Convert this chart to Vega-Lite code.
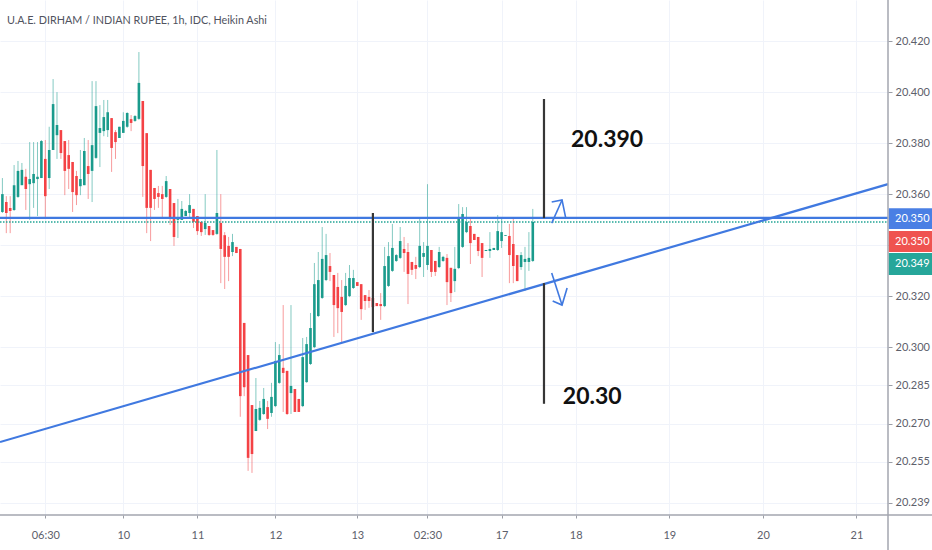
{
  "$schema": "https://vega.github.io/schema/vega-lite/v6.json",
  "width": 888,
  "height": 515,
  "autosize": "none",
  "padding": {"left": 0, "top": 0, "right": 44, "bottom": 35},
  "background": "#ffffff",
  "config": {"view": {"stroke": null}},
  "datasets": {
    "candles": [
      {"i":0,"o":20.3530,"c":20.3600,"h":20.3663,"l":20.3526},
      {"i":1,"o":20.3569,"c":20.3526,"h":20.3592,"l":20.3447},
      {"i":2,"o":20.3546,"c":20.3534,"h":20.3592,"l":20.3447},
      {"i":3,"o":20.3538,"c":20.3635,"h":20.3714,"l":20.3534},
      {"i":4,"o":20.3589,"c":20.3691,"h":20.3730,"l":20.3585},
      {"i":5,"o":20.3635,"c":20.3695,"h":20.3722,"l":20.3635},
      {"i":6,"o":20.3668,"c":20.3620,"h":20.3699,"l":20.3538},
      {"i":7,"o":20.3639,"c":20.3659,"h":20.3804,"l":20.3499},
      {"i":8,"o":20.3643,"c":20.3679,"h":20.3804,"l":20.3546},
      {"i":9,"o":20.3659,"c":20.3668,"h":20.3804,"l":20.3514},
      {"i":10,"o":20.3663,"c":20.3808,"h":20.3812,"l":20.3663},
      {"i":11,"o":20.3738,"c":20.3592,"h":20.3812,"l":20.3507},
      {"i":12,"o":20.3663,"c":20.3773,"h":20.3864,"l":20.3620},
      {"i":13,"o":20.3773,"c":20.3953,"h":20.4051,"l":20.3773},
      {"i":14,"o":20.3831,"c":20.3871,"h":20.4000,"l":20.3738},
      {"i":15,"o":20.3851,"c":20.3761,"h":20.3851,"l":20.3738},
      {"i":16,"o":20.3808,"c":20.3691,"h":20.3808,"l":20.3596},
      {"i":17,"o":20.3753,"c":20.3699,"h":20.3812,"l":20.3620},
      {"i":18,"o":20.3726,"c":20.3608,"h":20.3726,"l":20.3530},
      {"i":19,"o":20.3671,"c":20.3596,"h":20.3691,"l":20.3557},
      {"i":20,"o":20.3631,"c":20.3659,"h":20.3773,"l":20.3596},
      {"i":21,"o":20.3635,"c":20.3769,"h":20.3820,"l":20.3635},
      {"i":22,"o":20.3710,"c":20.3679,"h":20.3812,"l":20.3581},
      {"i":23,"o":20.3691,"c":20.3792,"h":20.4043,"l":20.3569},
      {"i":24,"o":20.3742,"c":20.3945,"h":20.4043,"l":20.3738},
      {"i":25,"o":20.3840,"c":20.3859,"h":20.3949,"l":20.3706},
      {"i":26,"o":20.3847,"c":20.3902,"h":20.3969,"l":20.3827},
      {"i":27,"o":20.3851,"c":20.3921,"h":20.3969,"l":20.3824},
      {"i":28,"o":20.3898,"c":20.3781,"h":20.3898,"l":20.3687},
      {"i":29,"o":20.3843,"c":20.3804,"h":20.3851,"l":20.3738},
      {"i":30,"o":20.3820,"c":20.3864,"h":20.3864,"l":20.3820},
      {"i":31,"o":20.3840,"c":20.3887,"h":20.3921,"l":20.3840},
      {"i":32,"o":20.3864,"c":20.3918,"h":20.3921,"l":20.3860},
      {"i":33,"o":20.3894,"c":20.3879,"h":20.3910,"l":20.3847},
      {"i":34,"o":20.3887,"c":20.3906,"h":20.3910,"l":20.3883},
      {"i":35,"o":20.3895,"c":20.4036,"h":20.4157,"l":20.3891},
      {"i":36,"o":20.3965,"c":20.3710,"h":20.3965,"l":20.3589},
      {"i":37,"o":20.3839,"c":20.3546,"h":20.3839,"l":20.3447},
      {"i":38,"o":20.3695,"c":20.3546,"h":20.3695,"l":20.3416},
      {"i":39,"o":20.3624,"c":20.3581,"h":20.3624,"l":20.3538},
      {"i":40,"o":20.3604,"c":20.3589,"h":20.3632,"l":20.3546},
      {"i":41,"o":20.3600,"c":20.3581,"h":20.3632,"l":20.3507},
      {"i":42,"o":20.3589,"c":20.3651,"h":20.3671,"l":20.3585},
      {"i":43,"o":20.3620,"c":20.3507,"h":20.3620,"l":20.3479},
      {"i":44,"o":20.3565,"c":20.3432,"h":20.3565,"l":20.3397},
      {"i":45,"o":20.3499,"c":20.3507,"h":20.3581,"l":20.3428},
      {"i":46,"o":20.3499,"c":20.3542,"h":20.3573,"l":20.3499},
      {"i":47,"o":20.3514,"c":20.3534,"h":20.3538,"l":20.3514},
      {"i":48,"o":20.3526,"c":20.3557,"h":20.3600,"l":20.3510},
      {"i":49,"o":20.3542,"c":20.3491,"h":20.3542,"l":20.3467},
      {"i":50,"o":20.3514,"c":20.3455,"h":20.3514,"l":20.3440},
      {"i":51,"o":20.3491,"c":20.3451,"h":20.3491,"l":20.3436},
      {"i":52,"o":20.3463,"c":20.3487,"h":20.3600,"l":20.3440},
      {"i":53,"o":20.3475,"c":20.3440,"h":20.3475,"l":20.3436},
      {"i":54,"o":20.3459,"c":20.3440,"h":20.3459,"l":20.3436},
      {"i":55,"o":20.3444,"c":20.3526,"h":20.3773,"l":20.3440},
      {"i":56,"o":20.3487,"c":20.3385,"h":20.3600,"l":20.3251},
      {"i":57,"o":20.3439,"c":20.3354,"h":20.3451,"l":20.3228},
      {"i":58,"o":20.3397,"c":20.3354,"h":20.3432,"l":20.3259},
      {"i":59,"o":20.3373,"c":20.3412,"h":20.3444,"l":20.3357},
      {"i":60,"o":20.3393,"c":20.3369,"h":20.3393,"l":20.3369},
      {"i":61,"o":20.3385,"c":20.2808,"h":20.3385,"l":20.2727},
      {"i":62,"o":20.3095,"c":20.2843,"h":20.3095,"l":20.2808},
      {"i":63,"o":20.2969,"c":20.2566,"h":20.2969,"l":20.2515},
      {"i":64,"o":20.2773,"c":20.2581,"h":20.2773,"l":20.2507},
      {"i":65,"o":20.2671,"c":20.2758,"h":20.2879,"l":20.2671},
      {"i":66,"o":20.2715,"c":20.2762,"h":20.2789,"l":20.2711},
      {"i":67,"o":20.2738,"c":20.2797,"h":20.2840,"l":20.2734},
      {"i":68,"o":20.2765,"c":20.2719,"h":20.2789,"l":20.2679},
      {"i":69,"o":20.2742,"c":20.2805,"h":20.2860,"l":20.2727},
      {"i":70,"o":20.2769,"c":20.2946,"h":20.3020,"l":20.2765},
      {"i":71,"o":20.2860,"c":20.2969,"h":20.3012,"l":20.2856},
      {"i":72,"o":20.2919,"c":20.2899,"h":20.3165,"l":20.2746},
      {"i":73,"o":20.2907,"c":20.2738,"h":20.2907,"l":20.2734},
      {"i":74,"o":20.2820,"c":20.2848,"h":20.3165,"l":20.2738},
      {"i":75,"o":20.2836,"c":20.2746,"h":20.2836,"l":20.2746},
      {"i":76,"o":20.2797,"c":20.2746,"h":20.2797,"l":20.2746},
      {"i":77,"o":20.2769,"c":20.2961,"h":20.3036,"l":20.2765},
      {"i":78,"o":20.2863,"c":20.3012,"h":20.3040,"l":20.2860},
      {"i":79,"o":20.2934,"c":20.3075,"h":20.3134,"l":20.2930},
      {"i":80,"o":20.3000,"c":20.3247,"h":20.3330,"l":20.2996},
      {"i":81,"o":20.3122,"c":20.3263,"h":20.3373,"l":20.3118},
      {"i":82,"o":20.3193,"c":20.3346,"h":20.3471,"l":20.3189},
      {"i":83,"o":20.3263,"c":20.3361,"h":20.3444,"l":20.3259},
      {"i":84,"o":20.3318,"c":20.3295,"h":20.3369,"l":20.3259},
      {"i":85,"o":20.3283,"c":20.3165,"h":20.3283,"l":20.3040},
      {"i":86,"o":20.3236,"c":20.3153,"h":20.3291,"l":20.3055},
      {"i":87,"o":20.3197,"c":20.3138,"h":20.3263,"l":20.3016},
      {"i":88,"o":20.3165,"c":20.3240,"h":20.3291,"l":20.3161},
      {"i":89,"o":20.3200,"c":20.3271,"h":20.3322,"l":20.3196},
      {"i":90,"o":20.3232,"c":20.3271,"h":20.3303,"l":20.3228},
      {"i":91,"o":20.3255,"c":20.3240,"h":20.3255,"l":20.3240},
      {"i":92,"o":20.3247,"c":20.3149,"h":20.3247,"l":20.3107},
      {"i":93,"o":20.3204,"c":20.3181,"h":20.3204,"l":20.3146},
      {"i":94,"o":20.3197,"c":20.3181,"h":20.3224,"l":20.3154},
      {"i":95,"o":20.3193,"c":20.3157,"h":20.3224,"l":20.3118},
      {"i":96,"o":20.3173,"c":20.3161,"h":20.3173,"l":20.3161},
      {"i":97,"o":20.3169,"c":20.3161,"h":20.3212,"l":20.3107},
      {"i":98,"o":20.3161,"c":20.3318,"h":20.3393,"l":20.3157},
      {"i":99,"o":20.3240,"c":20.3357,"h":20.3412,"l":20.3236},
      {"i":100,"o":20.3299,"c":20.3389,"h":20.3483,"l":20.3295},
      {"i":101,"o":20.3338,"c":20.3361,"h":20.3365,"l":20.3334},
      {"i":102,"o":20.3350,"c":20.3416,"h":20.3471,"l":20.3346},
      {"i":103,"o":20.3385,"c":20.3369,"h":20.3432,"l":20.3295},
      {"i":104,"o":20.3373,"c":20.3287,"h":20.3408,"l":20.3169},
      {"i":105,"o":20.3334,"c":20.3303,"h":20.3334,"l":20.3283},
      {"i":106,"o":20.3322,"c":20.3307,"h":20.3354,"l":20.3267},
      {"i":107,"o":20.3314,"c":20.3397,"h":20.3507,"l":20.3310},
      {"i":108,"o":20.3354,"c":20.3369,"h":20.3412,"l":20.3275},
      {"i":109,"o":20.3322,"c":20.3397,"h":20.3639,"l":20.3303},
      {"i":110,"o":20.3381,"c":20.3295,"h":20.3381,"l":20.3275},
      {"i":111,"o":20.3338,"c":20.3295,"h":20.3338,"l":20.3279},
      {"i":112,"o":20.3314,"c":20.3373,"h":20.3393,"l":20.3310},
      {"i":113,"o":20.3338,"c":20.3354,"h":20.3358,"l":20.3334},
      {"i":114,"o":20.3350,"c":20.3255,"h":20.3365,"l":20.3165},
      {"i":115,"o":20.3311,"c":20.3212,"h":20.3311,"l":20.3177},
      {"i":116,"o":20.3259,"c":20.3307,"h":20.3393,"l":20.3216},
      {"i":117,"o":20.3310,"c":20.3510,"h":20.3561,"l":20.3306},
      {"i":118,"o":20.3393,"c":20.3522,"h":20.3549,"l":20.3389},
      {"i":119,"o":20.3451,"c":20.3491,"h":20.3549,"l":20.3447},
      {"i":120,"o":20.3475,"c":20.3408,"h":20.3507,"l":20.3326},
      {"i":121,"o":20.3444,"c":20.3420,"h":20.3444,"l":20.3420},
      {"i":122,"o":20.3432,"c":20.3377,"h":20.3432,"l":20.3357},
      {"i":123,"o":20.3408,"c":20.3350,"h":20.3408,"l":20.3275},
      {"i":124,"o":20.3377,"c":20.3381,"h":20.3381,"l":20.3377},
      {"i":125,"o":20.3377,"c":20.3385,"h":20.3451,"l":20.3350},
      {"i":126,"o":20.3381,"c":20.3389,"h":20.3389,"l":20.3381},
      {"i":127,"o":20.3381,"c":20.3455,"h":20.3518,"l":20.3377},
      {"i":128,"o":20.3416,"c":20.3451,"h":20.3507,"l":20.3389},
      {"i":129,"o":20.3436,"c":20.3439,"h":20.3439,"l":20.3436},
      {"i":130,"o":20.3436,"c":20.3361,"h":20.3483,"l":20.3251},
      {"i":131,"o":20.3404,"c":20.3318,"h":20.3507,"l":20.3251},
      {"i":132,"o":20.3361,"c":20.3259,"h":20.3361,"l":20.3259},
      {"i":133,"o":20.3314,"c":20.3361,"h":20.3373,"l":20.3303},
      {"i":134,"o":20.3334,"c":20.3346,"h":20.3393,"l":20.3220},
      {"i":135,"o":20.3334,"c":20.3350,"h":20.3451,"l":20.3299},
      {"i":136,"o":20.3338,"c":20.3491,"h":20.3542,"l":20.3334}
    ]
  },
  "layer": [
    {
      "data": {"name": "candles"},
      "mark": {"type": "rule", "strokeWidth": 1, "opacity": 0.55},
      "encoding": {
        "x": {
          "field": "i",
          "type": "quantitative",
          "title": null,
          "scale": {"domain": [-0.615, 227.08], "nice": false, "zero": false, "padding": 0},
          "axis": {
            "values": [11, 31, 50, 70, 91, 109, 128, 147, 171, 195, 219],
            "labelExpr": "{'11':'06:30','31':'10','50':'11','70':'12','91':'13','109':'02:30','128':'17','147':'18','171':'19','195':'20','219':'21'}[''+datum.value]",
            "grid": true,
            "gridColor": "#f0f3fa",
            "gridWidth": 1,
            "domain": false,
            "tickColor": "#9b9ea6",
            "tickSize": 3,
            "labelColor": "#5d606b",
            "labelFont": "Lato",
            "labelFontSize": 11,
            "labelPadding": 11,
            "labelFlush": false,
            "labelOverlap": false
          }
        },
        "y": {
          "field": "h",
          "type": "quantitative",
          "title": null,
          "scale": {"domain": [20.2342, 20.4361], "nice": false, "zero": false},
          "axis": {
            "orient": "right",
            "values": [20.42, 20.4, 20.38, 20.36, 20.34, 20.32, 20.3, 20.285, 20.27, 20.255, 20.239],
            "labelExpr": "datum.value == 20.34 ? '' : format(datum.value, '.3f')",
            "grid": true,
            "gridColor": "#f0f3fa",
            "gridWidth": 1,
            "domain": false,
            "tickColor": "#9b9ea6",
            "tickSize": 4,
            "labelColor": "#5d606b",
            "labelFont": "Lato",
            "labelFontSize": 11,
            "labelPadding": 3,
            "labelOverlap": false
          }
        },
        "y2": {"field": "l"},
        "color": {"condition": {"test": "datum.c >= datum.o", "value": "#1f9e8f"}, "value": "#f0484a"}
      }
    },
    {
      "data": {"name": "candles"},
      "mark": {"type": "bar", "size": 2.6},
      "encoding": {
        "x": {"field": "i", "type": "quantitative"},
        "y": {"field": "o", "type": "quantitative"},
        "y2": {"field": "c"},
        "color": {"condition": {"test": "datum.c >= datum.o", "value": "#1a9b8c"}, "value": "#f44245"}
      }
    },
    {
      "data": {"values": [{"i": -0.615, "p": 20.3491}, {"i": 227.08, "p": 20.3491}]},
      "mark": {"type": "line", "color": "#22a595", "strokeWidth": 1.5, "strokeDash": [1.5, 1.5]},
      "encoding": {"x": {"field": "i", "type": "quantitative"}, "y": {"field": "p", "type": "quantitative"}}
    },
    {
      "data": {
        "values": [
          {"s": "level", "i": -0.615, "p": 20.3507},
          {"s": "level", "i": 227.08, "p": 20.3507},
          {"s": "trend", "i": -0.615, "p": 20.2628},
          {"s": "trend", "i": 227.08, "p": 20.3639}
        ]
      },
      "mark": {"type": "line", "color": "#4079e0", "strokeWidth": 2.2},
      "encoding": {
        "x": {"field": "i", "type": "quantitative"},
        "y": {"field": "p", "type": "quantitative"},
        "detail": {"field": "s"}
      }
    },
    {
      "data": {
        "values": [
          {"i": 95, "p": 20.3526, "p2": 20.3059},
          {"i": 138.87, "p": 20.3973, "p2": 20.3506},
          {"i": 138.87, "p": 20.3251, "p2": 20.2778}
        ]
      },
      "mark": {"type": "rule", "color": "#363636", "strokeWidth": 2.2},
      "encoding": {
        "x": {"field": "i", "type": "quantitative"},
        "y": {"field": "p", "type": "quantitative"},
        "y2": {"field": "p2"}
      }
    },
    {
      "data": {
        "values": [
          {"s": "upShaft", "i": 140.85, "p": 20.3486},
          {"s": "upShaft", "i": 143.5, "p": 20.3577},
          {"s": "upHead", "i": 140.85, "p": 20.3569},
          {"s": "upHead", "i": 143.5, "p": 20.3577},
          {"s": "upHead", "i": 144.4, "p": 20.3510},
          {"s": "downShaft", "i": 140.85, "p": 20.3291},
          {"s": "downShaft", "i": 143.5, "p": 20.3165},
          {"s": "downHead", "i": 141.1, "p": 20.3181},
          {"s": "downHead", "i": 143.5, "p": 20.3165},
          {"s": "downHead", "i": 144.8, "p": 20.3232}
        ]
      },
      "mark": {"type": "line", "color": "#4079e0", "strokeWidth": 1.6},
      "encoding": {
        "x": {"field": "i", "type": "quantitative"},
        "y": {"field": "p", "type": "quantitative"},
        "detail": {"field": "s"}
      }
    },
    {
      "data": {
        "values": [
          {"t": "20.390", "i": 145.8, "p": 20.3812},
          {"t": "20.30", "i": 143.7, "p": 20.2805}
        ]
      },
      "mark": {"type": "text", "align": "left", "baseline": "middle", "font": "Lato", "fontWeight": "bold", "fontSize": 23, "color": "#111111"},
      "encoding": {
        "x": {"field": "i", "type": "quantitative"},
        "y": {"field": "p", "type": "quantitative"},
        "text": {"field": "t"}
      }
    },
    {
      "data": {"values": [{"t": "U.A.E. DIRHAM / INDIAN RUPEE, 1h, IDC, Heikin Ashi", "i": 1.18, "p": 20.4279}]},
      "mark": {"type": "text", "align": "left", "baseline": "middle", "font": "Lato", "fontSize": 10.8, "color": "#50535e"},
      "encoding": {
        "x": {"field": "i", "type": "quantitative"},
        "y": {"field": "p", "type": "quantitative"},
        "text": {"field": "t"}
      }
    },
    {
      "data": {
        "values": [
          {"i": 227.08, "i2": 227.08, "p": 20.4361, "p2": 20.2205},
          {"i": -0.615, "i2": 238.4, "p": 20.2342, "p2": 20.2342}
        ]
      },
      "mark": {"type": "rule", "color": "#a3a6af", "strokeWidth": 1.5},
      "encoding": {
        "x": {"field": "i", "type": "quantitative"},
        "x2": {"field": "i2"},
        "y": {"field": "p", "type": "quantitative"},
        "y2": {"field": "p2"}
      }
    },
    {
      "data": {
        "values": [
          {"s": "line", "i": 227.3, "i2": 238.4, "p": 20.3545, "p2": 20.3463},
          {"s": "last", "i": 227.3, "i2": 238.4, "p": 20.3455, "p2": 20.3373},
          {"s": "prev", "i": 227.3, "i2": 238.4, "p": 20.3369, "p2": 20.3283}
        ]
      },
      "mark": {"type": "rect"},
      "encoding": {
        "x": {"field": "i", "type": "quantitative"},
        "x2": {"field": "i2"},
        "y": {"field": "p", "type": "quantitative"},
        "y2": {"field": "p2"},
        "color": {
          "field": "s",
          "type": "nominal",
          "legend": null,
          "scale": {"domain": ["line", "last", "prev"], "range": ["#4a7fe4", "#ef5350", "#26a69a"]}
        }
      }
    },
    {
      "data": {
        "values": [
          {"t": "20.350", "i": 228.9, "p": 20.3504},
          {"t": "20.350", "i": 228.9, "p": 20.3414},
          {"t": "20.349", "i": 228.9, "p": 20.3326}
        ]
      },
      "mark": {"type": "text", "align": "left", "baseline": "middle", "font": "Lato", "fontSize": 11, "color": "#ffffff"},
      "encoding": {
        "x": {"field": "i", "type": "quantitative"},
        "y": {"field": "p", "type": "quantitative"},
        "text": {"field": "t"}
      }
    }
  ]
}
